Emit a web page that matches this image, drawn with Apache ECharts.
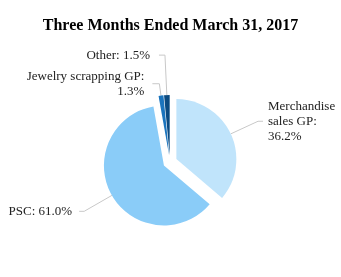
<!DOCTYPE html>
<html>
<head>
<meta charset="utf-8">
<script src="https://cdn.jsdelivr.net/npm/echarts@6/dist/echarts.min.js"></script>
<style>html,body{margin:0;padding:0;background:#fff}#c{width:341px;height:277px}</style>
</head>
<body>
<div id="c"></div>
<script>
var titleText = 'Three Months Ended March 31, 2017';
var categories = ['Merchandise sales GP', 'PSC', 'Jewelry scrapping GP', 'Other'];
var labelTexts = ['Merchandise\nsales GP:\n36.2%', 'PSC: 61.0%', 'Jewelry scrapping GP:\n1.3%', 'Other: 1.5%'];
var values = [36.2, 61.0, 1.3, 1.5];
var colors = ['#C0E4FB', '#8ACCF8', '#1B74BD', '#0B4A80'];

// label line geometry (layout only)
var lineLen = [30, 32, 12, 40];
var lineLen2 = [5, 5, 7, 6];
var labelGap = [5, 7, 8, 9];

var chart = echarts.init(document.getElementById('c'));
chart.setOption({
  animation: false,
  title: {
    text: titleText, left: 'center', top: 13,
    textStyle: {fontFamily: 'Liberation Serif', fontWeight: 'bold', fontSize: 16, color: '#000'}
  },
  series: [{
    type: 'pie',
    center: [170, 162],
    radius: 60,
    startAngle: 90,
    clockwise: true,
    selectedMode: 'multiple',
    selectedOffset: 7,
    avoidLabelOverlap: false,
    emphasis: {disabled: true},
    label: {
      show: true, position: 'outside',
      fontFamily: 'Liberation Serif', fontSize: 13, color: '#222', lineHeight: 15,
      formatter: function (p) { return labelTexts[p.dataIndex]; }
    },
    labelLine: {show: true, lineStyle: {color: '#c8c8c8', width: 1}},
    data: categories.map(function (c, i) {
      return {
        name: c, value: values[i], selected: true,
        itemStyle: {color: colors[i]},
        label: {distanceToLabelLine: labelGap[i]},
        labelLine: {length: lineLen[i], length2: lineLen2[i]}
      };
    })
  }]
});
</script>
</body>
</html>
